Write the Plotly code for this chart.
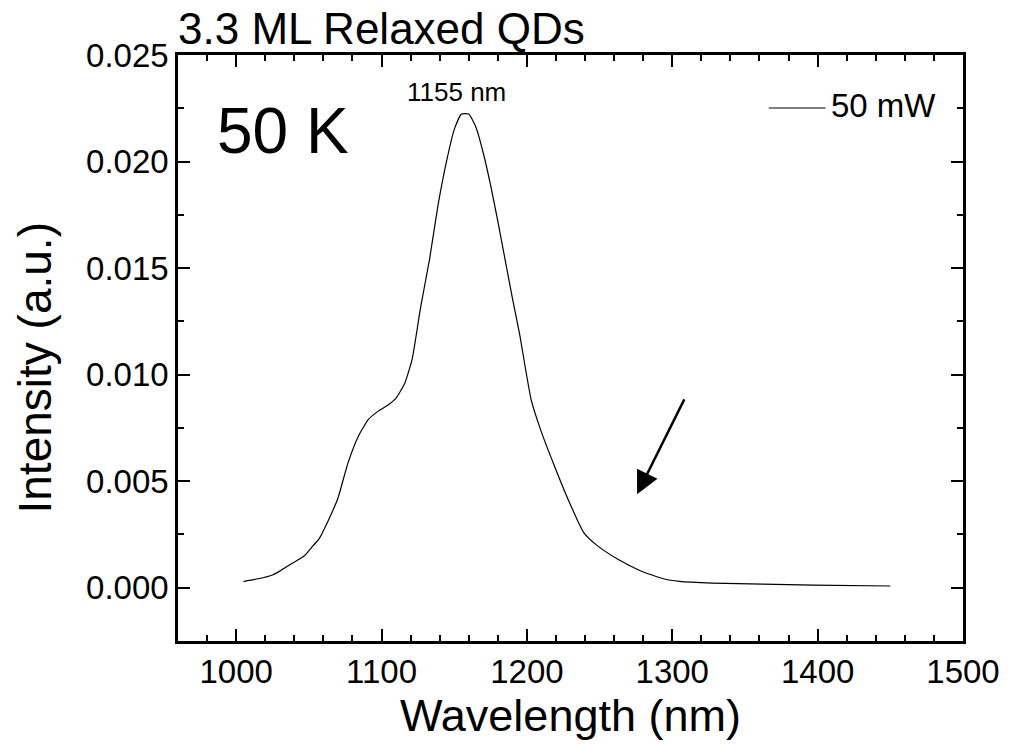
import plotly.graph_objects as go

wavelength = [1005, 1015, 1025, 1030, 1038, 1047, 1053, 1057, 1063, 1070, 1077, 1084,
              1091, 1098, 1105, 1110, 1116, 1121, 1127, 1133, 1139, 1145, 1150, 1155,
              1160, 1165, 1170, 1175, 1180, 1185, 1190, 1195, 1203, 1210, 1219, 1228,
              1239, 1248, 1262, 1278, 1294, 1305, 1328, 1362, 1397, 1450]
intensity = [0.00029, 0.00042, 0.00060, 0.00078, 0.00112, 0.00150, 0.00198, 0.00229,
             0.00310, 0.00420, 0.00587, 0.00710, 0.00790, 0.00830, 0.00860, 0.00890,
             0.00960, 0.01070, 0.01320, 0.01540, 0.01800, 0.02010, 0.02150, 0.02223,
             0.02223, 0.02160, 0.02040, 0.01890, 0.01720, 0.01540, 0.01360, 0.01190,
             0.00880, 0.00730, 0.00570, 0.00420, 0.00260, 0.00200, 0.00136, 0.00080,
             0.00042, 0.00030, 0.00022, 0.00017, 0.00012, 0.00008]
series_name = "50 mW"
peak_label = "1155 nm"
peak_pos = (1151.5, 0.02327)
arrow_tip = (1275.8, 0.00439)
arrow_tail = (1308.8, 0.00891)

FONT = "Liberation Sans, Arial, sans-serif"

fig = go.Figure()
fig.add_trace(go.Scatter(x=wavelength, y=intensity, mode="lines", name=series_name,
                         showlegend=False,
                         line=dict(color="black", width=1.2, shape="spline", smoothing=0.5)))

axis_common = dict(showline=True, linecolor="black", linewidth=2.5, mirror="allticks",
                   ticks="inside", ticklen=12, tickwidth=2, tickcolor="black",
                   showgrid=False, zeroline=False,
                   tickfont=dict(family=FONT, size=33, color="black"))

fig.update_xaxes(range=[960, 1500], tick0=1000, dtick=100,
                 minor=dict(dtick=20, ticks="inside", ticklen=6, tickwidth=1.5, tickcolor="black"),
                 title=dict(text="Wavelength (nm)", font=dict(family=FONT, size=45, color="black"),
                            standoff=4),
                 **axis_common)
fig.update_yaxes(range=[-0.0025, 0.025], tick0=0, dtick=0.005, tickformat=".3f",
                 minor=dict(dtick=0.0025, ticks="inside", ticklen=6, tickwidth=1.5, tickcolor="black"),
                 **axis_common)

# y-axis title
fig.add_annotation(x=-0.1827, y=0.466, xref="paper", yref="paper", xanchor="center",
                   yanchor="middle", textangle=-90, text="Intensity (a.u.)", showarrow=False,
                   font=dict(family=FONT, size=46, color="black"))

fig.add_annotation(x=peak_pos[0], y=peak_pos[1], xref="x", yref="y", text=peak_label,
                   xanchor="center", yanchor="middle",
                   showarrow=False, font=dict(family=FONT, size=26, color="black"))
fig.add_annotation(x=arrow_tip[0], y=arrow_tip[1], ax=arrow_tail[0], ay=arrow_tail[1],
                   xref="x", yref="y", axref="x", ayref="y", text="", showarrow=True,
                   arrowhead=2, arrowsize=1.9, arrowwidth=2.4, arrowcolor="black")
fig.add_annotation(x=(283 - 178) / 788, y=(641 - 131) / 586, xref="paper", yref="paper",
                   xanchor="center", yanchor="middle", text="50 K",
                   showarrow=False, font=dict(family=FONT, size=64, color="black"))
fig.add_annotation(x=0.0, y=1.0, xref="paper", yref="paper", xanchor="left", yanchor="bottom",
                   yshift=0, xshift=-2, text="3.3 ML Relaxed QDs", showarrow=False,
                   font=dict(family=FONT, size=44, color="black"))

# legend (drawn manually to match the long line sample)
fig.add_shape(type="line", xref="paper", yref="paper",
              x0=(771 - 178) / 788, x1=(828 - 178) / 788,
              y0=(641 - 108) / 586, y1=(641 - 108) / 586,
              line=dict(color="black", width=1.2))
fig.add_annotation(x=(831 - 178) / 788, y=(641 - 106) / 586, xref="paper", yref="paper",
                   xanchor="left", yanchor="middle", text=series_name, showarrow=False,
                   font=dict(family=FONT, size=33, color="black"))

fig.update_layout(width=1012, height=744, paper_bgcolor="white", plot_bgcolor="white",
                  margin=dict(l=178, r=46, t=55, b=103), showlegend=False)

fig.write_html("out.html")
